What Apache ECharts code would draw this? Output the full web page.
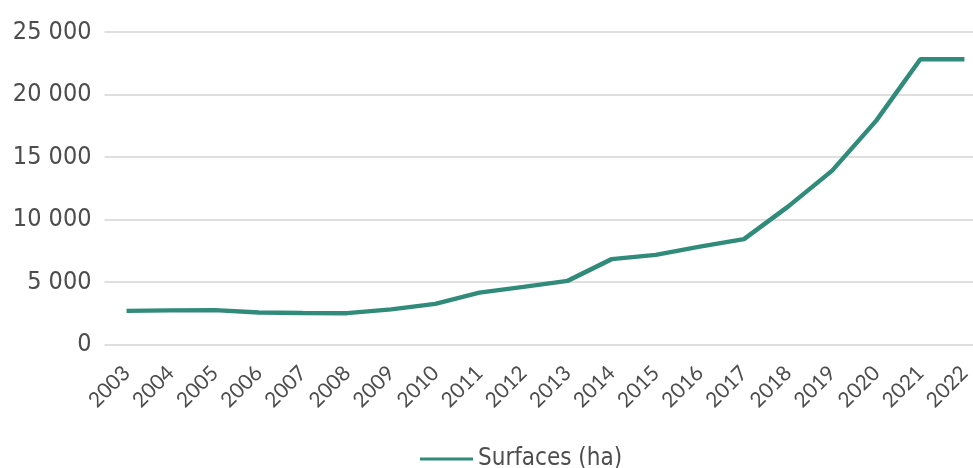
<!DOCTYPE html>
<html>
<head>
<meta charset="utf-8">
<script src="https://cdn.jsdelivr.net/npm/echarts@6/dist/echarts.min.js"></script>
<style>
  html, body { margin: 0; padding: 0; background: #fff; }
  #chart { width: 973px; height: 468px; }
</style>
</head>
<body>
<div id="chart"></div>
<script>
// années
const years = ['2003', '2004', '2005', '2006', '2007', '2008', '2009', '2010', '2011', '2012',
  '2013', '2014', '2015', '2016', '2017', '2018', '2019', '2020', '2021', '2022']
// surfaces en hectares
const surfaces = [2690, 2730, 2750, 2560, 2520, 2510, 2810, 3250, 4150, 4610,
  5090, 6830, 7170, 7830, 8430, 11030, 13910, 17910, 22820, 22820]
const seriesName = 'Surfaces (ha)'

const lineColor = '#308b7b'
const textColor = '#4d4d4d'
const narrowFont = '"DejaVu Sans Condensed", sans-serif'

// format 25 000
function formatThousands(v) {
  return String(v).replace(/\B(?=(\d{3})+(?!\d))/g, ' ')
}

const chart = echarts.init(document.getElementById('chart'))

const option = {
  animation: false,
  grid: {
    left: 104.5,
    right: -13.5,
    top: 32,
    bottom: 123.5,
    outerBoundsMode: 'none',
    containLabel: false
  },
  legend: {
    data: [seriesName],
    left: 415,
    top: 442,
    icon: 'rect',
    itemWidth: 53,
    itemHeight: 3,
    itemGap: 5,
    textStyle: {
      fontFamily: narrowFont,
      fontSize: 24,
      color: textColor
    }
  },
  xAxis: {
    type: 'category',
    data: years,
    boundaryGap: true,
    axisLine: { show: false },
    axisTick: { show: false },
    axisLabel: {
      rotate: 45,
      margin: 25,
      interval: 0,
      fontFamily: 'Lato, "Open Sans", sans-serif',
      fontSize: 21,
      color: textColor
    }
  },
  yAxis: {
    type: 'value',
    min: 0,
    max: 25000,
    interval: 5000,
    axisLine: { show: false },
    axisTick: { show: false },
    splitLine: { lineStyle: { color: '#d4d4d4', width: 1.5 } },
    axisLabel: {
      margin: 13,
      fontFamily: narrowFont,
      fontSize: 25,
      color: textColor,
      formatter: formatThousands
    }
  },
  series: [
    {
      name: seriesName,
      type: 'line',
      data: surfaces,
      symbol: 'none',
      lineStyle: { color: lineColor, width: 4.5 },
      itemStyle: { color: lineColor }
    }
  ]
}

chart.setOption(option)
</script>
</body>
</html>
